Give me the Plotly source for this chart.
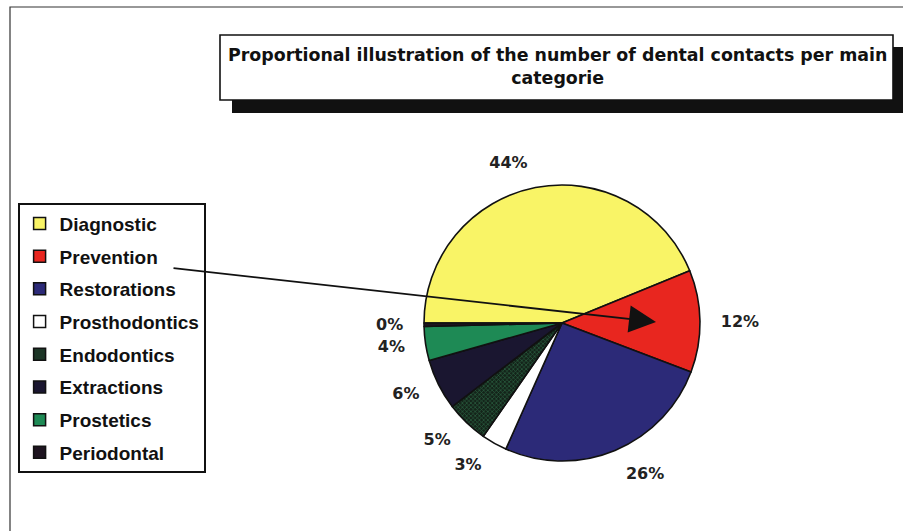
import plotly.graph_objects as go

categories = ["Diagnostic", "Prevention", "Restorations", "Prosthodontics",
              "Endodontics", "Extractions", "Prostetics", "Periodontal"]
shares = [44, 12, 26, 3, 5, 6, 4, 0.4]
colors = ["#F9F466", "#E8261F", "#2C2A78", "#FFFFFF",
          "#1C3526", "#1A1630", "#1E8A55", "#1E1420"]

W, H = 903, 531
FONT = "DejaVu Sans, Liberation Sans, Arial, sans-serif"
LFONT = "Liberation Sans, Arial, sans-serif"

def px(x):
    return x / W

def py(y):
    return (H - y) / H

cx, cy, r = 562, 323, 138
r_lab = r + 16

fig = go.Figure()

# visible pie
fig.add_trace(go.Pie(
    labels=categories,
    values=shares,
    sort=False,
    direction="clockwise",
    rotation=-90,
    marker=dict(
        colors=colors,
        line=dict(color="#111111", width=1.6),
        pattern=dict(shape=["", "", "", "", "x", "", "", ""],
                     fgcolor="#2A6040", bgcolor="#14241A", size=3, solidity=0.4),
    ),
    textinfo="none",
    domain=dict(x=[px(cx - r), px(cx + r)], y=[py(cy + r), py(cy - r)]),
    hoverinfo="label+percent",
    showlegend=False,
))

# transparent pie of the same data carrying the outside percentage labels
fig.add_trace(go.Pie(
    labels=categories,
    values=shares,
    sort=False,
    direction="clockwise",
    rotation=-90,
    marker=dict(colors=["rgba(0,0,0,0)"] * len(categories),
                line=dict(width=0)),
    textposition="outside",
    texttemplate="<b>%{percent:.0%}</b>",
    outsidetextfont=dict(family=FONT, size=16, color="#222222"),
    domain=dict(x=[px(cx - r_lab), px(cx + r_lab)],
                y=[py(cy + r_lab), py(cy - r_lab)]),
    hoverinfo="skip",
    showlegend=False,
))

# legend entries
for name, col in zip(categories, colors):
    fig.add_trace(go.Scatter(
        x=[None], y=[None], mode="markers", name="<b>%s</b>" % name,
        legendgroup=name,
        marker=dict(symbol="square", size=12, color=col,
                    line=dict(color="#111111", width=1.5)),
        showlegend=True,
    ))

shapes = [
    dict(type="rect", xref="paper", yref="paper", x0=px(10), x1=px(920),
         y0=py(560), y1=py(7), line=dict(color="#333333", width=1.2)),
    dict(type="rect", xref="paper", yref="paper", x0=px(232), x1=px(910),
         y0=py(113), y1=py(47), fillcolor="#111111", line=dict(width=0)),
    dict(type="rect", xref="paper", yref="paper", x0=px(220), x1=px(893),
         y0=py(100), y1=py(35), fillcolor="white",
         line=dict(color="#111111", width=1.6)),
]

annotations = [
    dict(xref="paper", yref="paper", x=px(557), y=py(67), xanchor="center",
         yanchor="middle", showarrow=False,
         text="<b>Proportional illustration of the number of dental contacts per main<br>categorie</b>",
         font=dict(family=FONT, size=17.4, color="#111111")),
    dict(xref="paper", yref="paper", x=px(656), y=py(322),
         ax=172 - 656, ay=268 - 322,
         showarrow=True, arrowhead=2, arrowsize=3, arrowwidth=1.8,
         arrowcolor="#111111", text=""),
]

fig.update_layout(
    width=W, height=H,
    margin=dict(l=0, r=0, t=0, b=0),
    paper_bgcolor="white",
    plot_bgcolor="white",
    xaxis=dict(visible=False),
    yaxis=dict(visible=False),
    shapes=shapes,
    annotations=annotations,
    showlegend=True,
    legend=dict(
        x=px(18), y=py(203), xanchor="left", yanchor="top",
        bordercolor="#111111", borderwidth=1.6, bgcolor="white",
        font=dict(family=LFONT, size=19, color="#111111"),
        traceorder="grouped",
        tracegroupgap=5,
        itemwidth=30,
    ),
)

fig.write_html("out.html")
